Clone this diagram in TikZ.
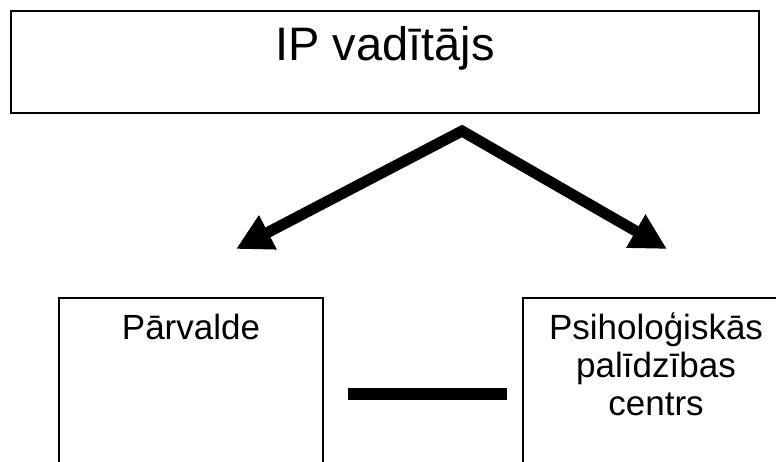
\documentclass[tikz,border=0pt]{standalone}
\usepackage{fontspec}
\setmainfont{Liberation Sans}
\usetikzlibrary{arrows.meta}

\begin{document}
\begin{tikzpicture}[x=1pt, y=-1pt,
                        box/.style={draw, line width=1.5pt, rectangle, anchor=north,
                            inner sep=0pt, align=center},
                        headtext/.style={font=\fontsize{47}{56}\selectfont},
                        unittext/.style={font=\fontsize{35}{38}\selectfont},
                        branch/.style={line width=11pt, line join=miter,
                            {Triangle[length=36pt,width=36pt]}-{Triangle[length=36pt,width=36pt]}},
                        link/.style={line width=12pt}]
                        % page frame
                        \useasboundingbox (0,0) rectangle (776,461);
                        \clip (0,0) rectangle (776,461);

                        % top box
                        \node[box, headtext, minimum width=748pt, text height=49.3pt,
                            text depth=52.7pt] (head) at (385,10) {IP vadītājs};

                        % lower boxes
                        \node[box, unittext, minimum width=264pt, text height=42pt,
                            text depth=150pt] (parv) at (191,297) {Pārvalde};
                        \node[box, unittext, minimum width=266pt, text height=118pt,
                            text depth=74pt] (psih) at (656,297)
                            {Psiholoģiskās\\palīdzības\\centrs};

                        % arrows
                        \coordinate (apex) at (462,131);
                        \coordinate (ltip) at (236,249);
                        \coordinate (rtip) at (667,249);
                        \draw[branch] (ltip) -- (apex) -- (rtip);

                        % link between the lower boxes
                        \draw[link] ([xshift=24pt]parv.east) -- ([xshift=-15pt]psih.west);
                    \end{tikzpicture}
\end{document}
